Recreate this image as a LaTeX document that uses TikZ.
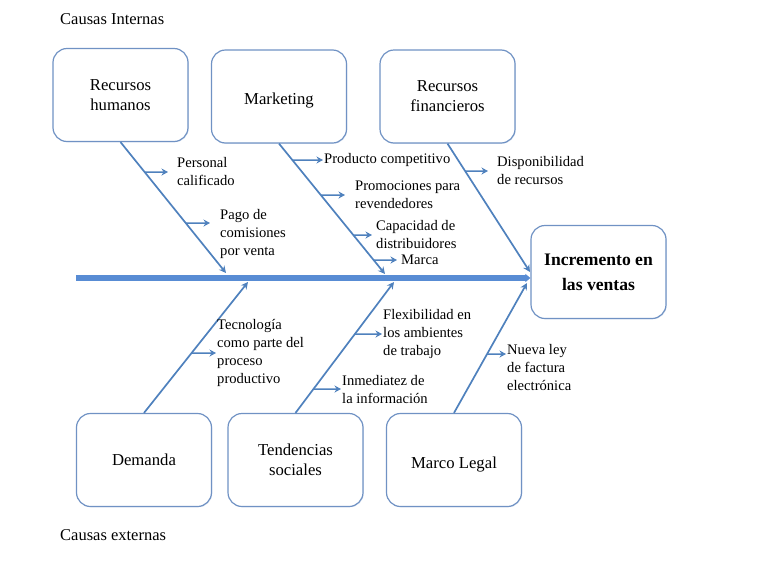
\documentclass[tikz,border=0pt]{standalone}
\usepackage{fontspec}
\setmainfont{Liberation Serif}
\usetikzlibrary{calc, positioning, arrows.meta, shadows}

\definecolor{azulhueso}{RGB}{79,129,189}
\definecolor{azulespina}{RGB}{88,140,212}
\definecolor{azulborde}{RGB}{112,146,196}

\tikzset{
	caja/.style = {draw = azulborde, line width = 1.2pt, rounded corners = 14pt, fill = white,
		drop shadow = {shadow xshift = 0.8pt, shadow yshift = -0.8pt, opacity = 0.2, fill = azulborde},
		minimum width = 135pt, minimum height = 93pt, align = center,
		font = \fontsize{16.7}{20}\selectfont},
	etiqueta/.style = {anchor = west, align = left, inner sep = 1pt,
		font = \fontsize{14.6}{18}\selectfont},
	hueso/.style = {draw = azulhueso, line width = 1.7pt, -{Stealth[length = 7pt, width = 7pt]}},
	rama/.style = {draw = azulhueso, line width = 1.5pt, -{Stealth[length = 6.5pt, width = 7pt]}}
}

\begin{document}
\begin{tikzpicture}[x = 1pt, y = -1pt]
	\useasboundingbox (0,0) rectangle (768,576);

	% causas internas
	\node [anchor = west, inner sep = 1pt, font = \fontsize{16.5}{18}\selectfont] (titint) at (59,19) {Causas Internas};
	\node [caja] (rh) at (120.5,95) {Recursos\\humanos};
	\node [caja] (mk) at (279,96.5) {\raisebox{-4pt}[\height][\depth]{Marketing}};
	\node [caja] (rf) at (447.5,96.5) {Recursos\\financieros};

	% efecto
	\node [caja, font = \bfseries\fontsize{17.6}{25}\selectfont] (ef) at (598.5,272) {Incremento en\\las ventas};

	% causas externas
	\node [caja] (de) at (144,460) {Demanda};
	\node [caja] (te) at (295.5,460) {Tendencias\\sociales};
	\node [caja] (ml) at (454,460) {\raisebox{-5pt}[\height][\depth]{Marco Legal}};
	\node [anchor = west, inner sep = 1pt, font = \fontsize{16.5}{18}\selectfont] (titext) at (59,535) {Causas externas};

	% espina
	\coordinate (cola) at (76,278);
	\draw [azulespina, line width = 6pt, -{Triangle[length = 5pt, width = 8pt]}] (cola) -- (cola -| ef.west);

	\coordinate (rhfin) at (226,273);
	\coordinate (mkfin) at (385,274);
	\coordinate (rffin) at (530,272);
	\coordinate (defin) at (248,282);
	\coordinate (tefin) at (394,282);
	\coordinate (mlfin) at (527,283);

	\begin{scope}
		\draw [hueso] (rh.south) -- (rhfin);
		\draw [hueso] (mk.south) -- (mkfin);
		\draw [hueso] (rf.south) -- (rffin);
		\draw [hueso] (de.north) -- (defin);
		\draw [hueso] (te.north) -- (tefin);
		\draw [hueso] (ml.north) -- (mlfin);
	\end{scope}

	% subcausas
	\node [etiqueta] (personal) at (176,172) {Personal\\calificado};
	\node [etiqueta] (pago) at (219,234) {Pago de\\comisiones\\por venta};
	\node [etiqueta] (producto) at (323,160) {Producto competitivo};
	\node [etiqueta] (promo) at (354,195) {Promociones para\\revendedores};
	\node [etiqueta] (capac) at (375,235) {Capacidad de\\distribuidores};
	\node [etiqueta] (marca) at (400,260) {Marca};
	\node [etiqueta] (dispo) at (496,171) {Disponibilidad\\de recursos};
	\node [etiqueta] (tecno) at (216,353) {Tecnología\\como parte del\\proceso\\productivo};
	\node [etiqueta] (flexi) at (382,334) {Flexibilidad en\\los ambientes\\de trabajo};
	\node [etiqueta] (inmed) at (341,389) {Inmediatez de\\la información};
	\node [etiqueta] (nueva) at (506,367) {Nueva ley\\de factura\\electrónica};

	\coordinate (pagoa) at ([yshift = 11pt]pago.west);
	\coordinate (pagob) at ([yshift = 11pt]pago.east);
	\coordinate (nuevaa) at ([yshift = 13pt]nueva.west);
	\coordinate (nuevab) at ([yshift = 13pt]nueva.east);

	\begin{scope}
		\draw [rama, shorten > = 8pt] (intersection of rh.south--rhfin and personal.west--personal.east) -- (personal.west);
		\draw [rama, shorten > = 9pt] (intersection of rh.south--rhfin and pagoa--pagob) -- (pagoa);
		\draw [rama] (intersection of mk.south--mkfin and producto.west--producto.east) -- (producto.west);
		\draw [rama, shorten > = 9pt] (intersection of mk.south--mkfin and promo.west--promo.east) -- (promo.west);
		\draw [rama, shorten > = 3pt] (intersection of mk.south--mkfin and capac.west--capac.east) -- (capac.west);
		\draw [rama, shorten > = 3pt] (intersection of mk.south--mkfin and marca.west--marca.east) -- (marca.west);
		\draw [rama, shorten > = 8pt] (intersection of rf.south--rffin and dispo.west--dispo.east) -- (dispo.west);
		\draw [rama] (intersection of de.north--defin and tecno.west--tecno.east) -- (tecno.west);
		\draw [rama] (intersection of te.north--tefin and flexi.west--flexi.east) -- (flexi.west);
		\draw [rama] (intersection of te.north--tefin and inmed.west--inmed.east) -- (inmed.west);
		\draw [rama] (intersection of ml.north--mlfin and nuevaa--nuevab) -- (nuevaa);
	\end{scope}
\end{tikzpicture}
\end{document}
